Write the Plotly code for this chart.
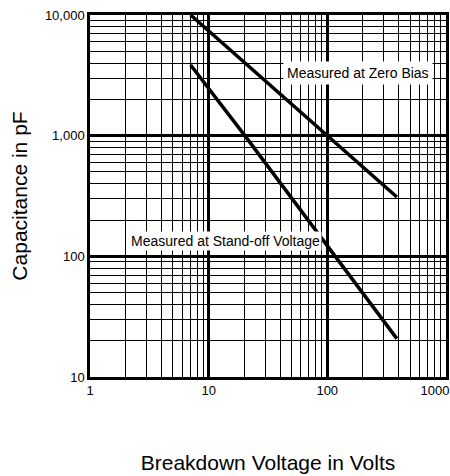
import plotly.graph_objects as go

# Data
zero_bias_v = [7.05, 100, 386]
zero_bias_c = [10000, 1000, 310]
standoff_v = [7.05, 20.2, 386]
standoff_c = [3850, 1000, 20.8]

x_tick_vals = [1, 10, 100, 1000]
x_tick_text = ["1", "10", "100", "1000&nbsp;&nbsp;&nbsp;&nbsp;&nbsp;&nbsp;"]
y_tick_vals = [10, 100, 1000, 10000]
y_tick_text = ["10", "100", "1,000", "10,000"]

minor_x = [m * d for d in [1, 10, 100] for m in range(2, 10)]
minor_y = [m * d for d in [10, 100, 1000] for m in range(2, 10)]

fig = go.Figure()
fig.add_trace(go.Scatter(x=zero_bias_v, y=zero_bias_c, mode="lines",
                         line=dict(color="black", width=3.5),
                         name="Measured at Zero Bias", showlegend=False))
fig.add_trace(go.Scatter(x=standoff_v, y=standoff_c, mode="lines",
                         line=dict(color="black", width=3.5),
                         name="Measured at Stand-off Voltage", showlegend=False))

font_family = "Liberation Sans, Arial, sans-serif"

fig.add_annotation(x=0.753, y=0.84, xref="paper", yref="paper",
                   xanchor="center", yanchor="middle",
                   text="Measured at Zero Bias", showarrow=False,
                   font=dict(family=font_family, size=14, color="black"),
                   bgcolor="white", borderpad=3)
fig.add_annotation(x=0.382, y=0.376, xref="paper", yref="paper",
                   xanchor="center", yanchor="middle",
                   text="Measured at Stand-off Voltage", showarrow=False,
                   font=dict(family=font_family, size=14, color="black"),
                   bgcolor="white", borderpad=1)

fig.update_xaxes(type="log", range=[0, 3.001], automargin=False,
                 ticklabeloverflow="allow",
                 tickvals=x_tick_vals, ticktext=x_tick_text,
                 showgrid=True, gridcolor="black", gridwidth=2.5,
                 minor=dict(tickvals=minor_x, showgrid=True, gridcolor="black", gridwidth=1),
                 showline=True, linecolor="black", linewidth=2.5, mirror=True,
                 ticks="", zeroline=False,
                 tickfont=dict(family=font_family, size=13, color="black"),
                 title=dict(text="Breakdown Voltage in Volts", standoff=58,
                            font=dict(family=font_family, size=21, color="black")))
fig.update_yaxes(type="log", range=[1, 4], automargin=False,
                 ticklabeloverflow="allow",
                 tickvals=y_tick_vals, ticktext=y_tick_text,
                 showgrid=True, gridcolor="black", gridwidth=2.5,
                 minor=dict(tickvals=minor_y, showgrid=True, gridcolor="black", gridwidth=1),
                 showline=True, linecolor="black", linewidth=2.5, mirror=True,
                 ticks="", zeroline=False,
                 tickfont=dict(family=font_family, size=13, color="black"),
                 title=dict(text="Capacitance in pF", standoff=12,
                            font=dict(family=font_family, size=21, color="black")))

fig.update_layout(width=450, height=476,
                  margin=dict(l=90, r=4, t=15, b=99),
                  paper_bgcolor="white", plot_bgcolor="white")

fig.write_html("out.html", config={"displayModeBar": False},
               post_script="document.body.style.margin='0';document.body.style.overflow='hidden';")
